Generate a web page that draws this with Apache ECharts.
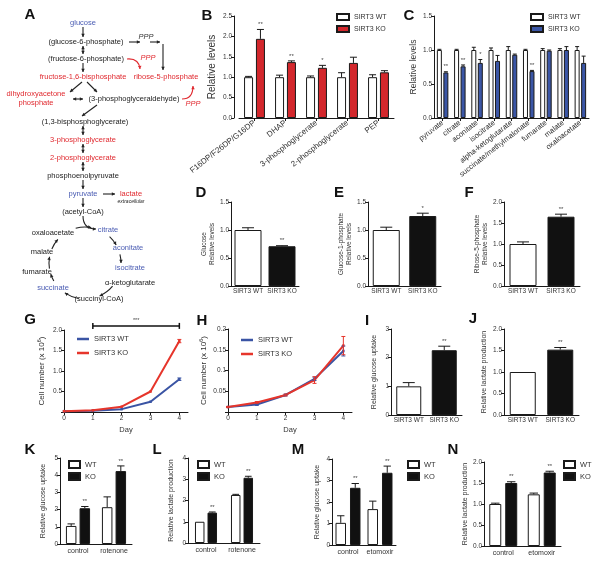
<!DOCTYPE html>
<html><head><meta charset="utf-8">
<script src="https://cdn.jsdelivr.net/npm/echarts@6/dist/echarts.min.js"></script>
<style>html,body{margin:0;padding:0;background:#fff}#c{width:600px;height:561px}</style>
</head><body><div id="c"></div>
<script>
// ================= DATA =================
const bCats = ['F16DP/F26DP/G16DP','DHAP','3-phosphoglycerate','2-phosphoglycerate','PEP'];
const bWT = [1.0,1.0,1.0,1.0,1.0];
const bWTErr = [0.02,0.05,0.03,0.11,0.06];
const bKO = [1.94,1.37,1.23,1.35,1.12];
const bKOErr = [0.23,0.03,0.06,0.14,0.04];
const bSig = ['**','**','*','',''];

const cCats = ['pyruvate','citrate','aconitate','isocitrate','alpha-ketoglutarate','succinate/methylmalonate','fumarate','malate','oxaloacetate'];
const cWT = [1,1,1,1,1,1,1,1,1];
const cWTErr = [0.01,0.01,0.04,0.03,0.05,0.01,0.02,0.02,0.05];
const cKO = [0.67,0.76,0.81,0.84,0.93,0.69,0.99,1.0,0.81];
const cKOErr = [0.01,0.02,0.05,0.08,0.01,0.01,0.01,0.05,0.10];
const cSig = ['**','**','*','','','**','','',''];

const pairCats = ['SIRT3 WT','SIRT3 KO'];
const dVals = [1.0,0.71], dErr = [0.04,0.01], dSig = ['','**'];
const eVals = [1.0,1.25], eErr = [0.05,0.05], eSig = ['','*'];
const fVals = [1.0,1.65], fErr = [0.05,0.06], fSig = ['','**'];

const days = [0,1,2,3,4];
const gWT = [0.02,0.03,0.07,0.25,0.80], gWTErr = [0,0,0,0,0.03];
const gKO = [0.02,0.04,0.13,0.50,1.73], gKOErr = [0,0,0,0,0.04];
const gBracket = [[1,4,2.1,'***']];
const hWT = [0.012,0.018,0.041,0.080,0.147], hWTErr = [0.001,0.002,0.002,0.004,0.012];
const hKO = [0.012,0.023,0.041,0.077,0.160], hKOErr = [0.001,0.002,0.002,0.008,0.022];

const iVals = [1.0,2.26], iErr = [0.13,0.14], iSig = ['','**'];
const jVals = [1.0,1.52], jErr = [0,0.05], jSig = ['','**'];

const kCats = ['control','rotenone'];
const kWT = [1.05,2.14], kWTErr = [0.12,0.6], kKO = [2.08,4.24], kKOErr = [0.1,0.3], kSig = ['**','**'];
const lWT = [1.0,2.26], lWTErr = [0,0.03], lKO = [1.43,3.07], lKOErr = [0.03,0.07], lSig = ['**','**'];
const mCats = ['control','etomoxir'];
const mWT = [1.03,1.67], mWTErr = [0.33,0.37], mKO = [2.66,3.36], mKOErr = [0.2,0.31], mSig = ['**','**'];
const nWT = [1.0,1.23], nWTErr = [0.02,0.03], nKO = [1.5,1.75], nKOErr = [0.03,0.03], nSig = ['**','**'];

// Panel A pathway labels
const aLabels = ['glucose','(glucose-6-phosphate)','PPP','(fructose-6-phosphate)','PPP','fructose-1,6-bisphosphate','ribose-5-phosphate','dihydroxyacetone','phosphate','(3-phosphoglyceraldehyde)','PPP','(1,3-bisphosphoglycerate)','3-phosphoglycerate','2-phosphoglycerate','phosphoenolpyruvate','pyruvate','lactate','extracellular','(acetyl-CoA)','citrate','oxaloacetate','aconitate','malate','isocitrate','fumarate','α-ketoglutarate','succinate','(succinyl-CoA)'];
const panelLetters = ['A','B','C','D','E','F','G','H','I','J','K','L','M','N'];

// ================= LAYOUT / STYLE =================
const FONT = '"Liberation Sans", Arial, Helvetica, sans-serif';
const INK = '#1a1a1a', TXT = '#333';
const RED = '#d3272c', BLUE = '#3b56a6', LRED = '#e6352b', LBLUE = '#3a54a4';
const TRED = '#e0292f', TBLUE = '#4a5cb3';
const aLayout = [[83,23,'b'],[86,42,'k'],[146,37,'gi'],[86,59,'k'],[148,58,'ri'],[83,77,'r'],[166,77,'r'],[36,94,'r'],[36,103,'r'],[134,99,'k'],[193,104,'ri'],[85,122,'k'],[83,140,'r'],[83,158,'r'],[83,176,'k'],[83,194,'b'],[131,194,'r'],[131,202,'ks'],[83,212,'k'],[108,230,'b'],[53,233,'k'],[128,248,'b'],[42,252,'k'],[130,268,'b'],[37,272,'k'],[130,283,'k'],[53,288,'b'],[99,299,'k']];
const letterPos = [[30,15],[207,16],[409,16],[201,193],[339,193],[469,193],[30,320],[202,321],[367,321],[473,319],[30,450],[157,450],[298,450],[453,450]];

const grids=[], xAxes=[], yAxes=[], series=[], legends=[], graphics=[];
function addGrid(l,t,w,h){ grids.push({left:l,top:t,width:w,height:h}); return grids.length-1; }
const f1 = v => v.toFixed(1), f0 = v => String(Math.round(v));
function yAx(idx,max,interval,fmt,name,gap,nsize,extra){
  yAxes.push(Object.assign({gridIndex:idx,type:'value',min:0,max,interval,
    axisLine:{show:true,lineStyle:{color:INK,width:1}},
    axisTick:{show:true,length:3,lineStyle:{color:INK,width:1}},
    axisLabel:{fontSize:6.5,color:TXT,margin:2,fontFamily:FONT,formatter:fmt},
    splitLine:{show:false},name,nameLocation:'middle',nameGap:gap,nameRotate:90,
    nameTextStyle:{fontSize:nsize,color:TXT,fontFamily:FONT,lineHeight:Math.round(nsize*1.3)}},extra||{}));
}
function catX(idx,cats,lab,tick){
  xAxes.push({gridIndex:idx,type:'category',data:cats,
    axisLine:{show:true,lineStyle:{color:INK,width:1}},
    axisTick:{show:!!tick,length:3,alignWithLabel:true,lineStyle:{color:INK}},
    axisLabel:Object.assign({fontSize:6.5,color:TXT,margin:3,fontFamily:FONT,interval:0},lab||{}),
    splitLine:{show:false}});
}
function valX(idx,max,ticks){
  xAxes.push({gridIndex:idx,type:'value',min:0,max,
    axisLine:{show:true,lineStyle:{color:INK,width:1}},
    axisTick:{show:true,length:3,customValues:ticks,lineStyle:{color:INK}},
    axisLabel:{fontSize:6.5,color:TXT,margin:3,fontFamily:FONT,customValues:ticks},
    splitLine:{show:false},name:'Day',nameLocation:'middle',nameGap:14,
    nameTextStyle:{fontSize:7.5,color:TXT,fontFamily:FONT}});
}
function bar(idx,name,vals,color,w,gap){
  series.push({type:'bar',name,xAxisIndex:idx,yAxisIndex:idx,data:vals,barWidth:w,barGap:gap,
    itemStyle:{color,borderColor:INK,borderWidth:1},silent:true});
}
function pairBar(idx,vals,w){
  series.push({type:'bar',name:'pair'+idx,xAxisIndex:idx,yAxisIndex:idx,barWidth:w,silent:true,
    data:vals.map((v,i)=>({value:v,itemStyle:{color:i===0?'#fff':'#111'}})),
    itemStyle:{borderColor:INK,borderWidth:1}});
}
function errs(idx,xs,vals,es,sigs,dx,cap,both,color){
  series.push({type:'custom',xAxisIndex:idx,yAxisIndex:idx,silent:true,z:10,clip:false,
    data:vals.map((v,i)=>[xs[i],v,es[i],i]),encode:{x:0,y:1},
    renderItem:function(params,api){
      const x0=api.value(0),v=api.value(1),e=api.value(2),k=api.value(3);
      const p=api.coord([x0,v]),t=api.coord([x0,v+e]),b=both?api.coord([x0,v-e]):p;
      const x=p[0]+dx,ch=[],st={stroke:color||INK,lineWidth:1};
      if(e>0){
        ch.push({type:'line',shape:{x1:x,y1:b[1],x2:x,y2:t[1]},style:st});
        ch.push({type:'line',shape:{x1:x-cap,y1:t[1],x2:x+cap,y2:t[1]},style:st});
        if(both) ch.push({type:'line',shape:{x1:x-cap,y1:b[1],x2:x+cap,y2:b[1]},style:st});
      }
      const s=sigs?sigs[k]:'';
      if(s) ch.push({type:'text',x:x,y:t[1]-2,style:{text:s,align:'center',verticalAlign:'bottom',fontSize:6,fontFamily:FONT,fill:'#444'}});
      return {type:'group',children:ch};
    }});
}
function groupedPanel(idx,wt,wtE,ko,koE,sig,koColor,w,g,prefix,cap){
  bar(idx,prefix+'|'+(prefix.length>1?'SIRT3 WT':'WT'),wt,'#fff',w,g);
  const dx=(w+w*g)/2;
  bar(idx,prefix+'|'+(prefix.length>1?'SIRT3 KO':'KO'),ko,koColor,w,g);
  const xs=wt.map((_,i)=>i);
  errs(idx,xs,wt,wtE,null,-dx,cap,false);
  errs(idx,xs,ko,koE,sig,dx,cap,false);
}
function legend(left,top,names,iw,ih,gap,fs,icon){
  legends.push({left,top,orient:'vertical',itemWidth:iw,itemHeight:ih,itemGap:gap,padding:0,
    selectedMode:false,icon:icon||'rect',data:names,formatter:n=>n.split('|')[1],
    textStyle:{fontSize:fs,color:TXT,fontFamily:FONT}});
}

// ---- B ----
let gi = addGrid(239,16,155,102);
catX(gi,bCats,{rotate:38,fontSize:8,margin:4},true);
yAx(gi,2.5,0.5,f1,'Relative levels',10,10,{offset:5});
groupedPanel(gi,bWT,bWTErr,bKO,bKOErr,bSig,RED,9,0.32,'SB',3.5);
legend(336,13,['SB|SIRT3 WT','SB|SIRT3 KO'],12,6,4,7);
// ---- C ----
gi = addGrid(434,16,155,102);
catX(gi,cCats,{rotate:38,fontSize:7.5,margin:4},true);
yAx(gi,1.5,0.5,f1,'Relative levels',12,8.5);
groupedPanel(gi,cWT,cWTErr,cKO,cKOErr,cSig,BLUE,5,0.3,'SC',2);
legend(530,13,['SC|SIRT3 WT','SC|SIRT3 KO'],12,6,4,7);
// ---- D/E/F ----
const defs = [[231,68,dVals,dErr,dSig,1.5,'Glucose\nRelative levels',14],[368,73,eVals,eErr,eSig,1.5,'Glucose-1-phosphate\nRelative levels',9],[504,76,fVals,fErr,fSig,2.0,'Ribose-5-phosphate\nRelative levels',13]];
defs.forEach(d=>{
  const g=addGrid(d[0],202,d[1],84);
  catX(g,pairCats,{fontSize:6.5,margin:2});
  yAx(g,d[5],0.5,f1,d[6],d[7],6.5);
  pairBar(g,d[2],27);
  errs(g,[0,1],d[2],d[3],d[4],0,6,false);
});
// ---- G ----
gi = addGrid(64,330,124,82);
valX(gi,4.3,days);
yAx(gi,2.0,0.5,v=>v===0?'':f1(v),'Cell number (x 10{s|6})',17,8,{nameTextStyle:{fontSize:8,color:TXT,fontFamily:FONT,rich:{s:{fontSize:5.5,padding:[0,0,5,0],fontFamily:FONT,color:TXT}}}});
series.push({type:'line',name:'SG|SIRT3 WT',xAxisIndex:gi,yAxisIndex:gi,data:days.map((d,i)=>[d,gWT[i]]),showSymbol:true,symbol:'rect',symbolSize:2.5,lineStyle:{color:LBLUE,width:2},itemStyle:{color:LBLUE},silent:true});
series.push({type:'line',name:'SG|SIRT3 KO',xAxisIndex:gi,yAxisIndex:gi,data:days.map((d,i)=>[d,gKO[i]]),showSymbol:true,symbol:'rect',symbolSize:2.5,lineStyle:{color:LRED,width:2},itemStyle:{color:LRED},silent:true});
errs(gi,days,gWT,gWTErr,null,0,2,true,LBLUE);
errs(gi,days,gKO,gKOErr,null,0,2,true,LRED);
series.push({type:'custom',xAxisIndex:gi,yAxisIndex:gi,silent:true,clip:false,data:gBracket,encode:{x:[0,1],y:2},
  renderItem:function(p,api){
    const a=api.coord([api.value(0),api.value(2)]),b=api.coord([api.value(1),api.value(2)]);
    const st={stroke:'#111',lineWidth:1.5};
    return {type:'group',children:[
      {type:'line',shape:{x1:a[0],y1:a[1],x2:b[0],y2:b[1]},style:st},
      {type:'line',shape:{x1:a[0],y1:a[1]-3,x2:a[0],y2:a[1]+3},style:st},
      {type:'line',shape:{x1:b[0],y1:b[1]-3,x2:b[0],y2:b[1]+3},style:st},
      {type:'text',x:(a[0]+b[0])/2,y:a[1]-2,style:{text:gBracket[p.dataIndex][3],align:'center',verticalAlign:'bottom',fontSize:5.5,fontFamily:FONT,fill:'#444'}}]};
  }});
legend(77,335,['SG|SIRT3 WT','SG|SIRT3 KO'],12,2.5,6,7.5);
// ---- H ----
gi = addGrid(228,329,124,83);
valX(gi,4.3,days);
yAx(gi,0.2,0.05,v=>v===0?'':String(+v.toFixed(2)),'Cell number (x 10{s|6})',19,8,{nameTextStyle:{fontSize:8,color:TXT,fontFamily:FONT,rich:{s:{fontSize:5.5,padding:[0,0,5,0],fontFamily:FONT,color:TXT}}}});
series.push({type:'line',name:'SH|SIRT3 WT',xAxisIndex:gi,yAxisIndex:gi,data:days.map((d,i)=>[d,hWT[i]]),showSymbol:true,symbol:'rect',symbolSize:2.5,lineStyle:{color:LBLUE,width:2},itemStyle:{color:LBLUE},silent:true});
series.push({type:'line',name:'SH|SIRT3 KO',xAxisIndex:gi,yAxisIndex:gi,data:days.map((d,i)=>[d,hKO[i]]),showSymbol:true,symbol:'rect',symbolSize:2.5,lineStyle:{color:LRED,width:2},itemStyle:{color:LRED},silent:true});
errs(gi,days,hWT,hWTErr,null,0,2,true,LBLUE);
errs(gi,days,hKO,hKOErr,null,0,2,true,LRED);
legend(241,336,['SH|SIRT3 WT','SH|SIRT3 KO'],12,2.5,6,7.5);
// ---- I / J ----
[[391,71,iVals,iErr,iSig,3,1,f0,'Relative glucose uptake',12,25],[504,75,jVals,jErr,jSig,2,0.5,f1,'Relative lactate production',15,26]].forEach(d=>{
  const g=addGrid(d[0],329,d[1],86);
  catX(g,pairCats,{fontSize:6.5,margin:2});
  yAx(g,d[5],d[6],d[7],d[8],d[9],7);
  pairBar(g,d[2],d[10]);
  errs(g,[0,1],d[2],d[3],d[4],0,6,false);
});
// ---- K L M N ----
[[60,458,72,86,kCats,5,1,f0,kWT,kWTErr,kKO,kKOErr,kSig,10.5,0.3,'Relative glucose uptake',12,'K',68],
 [188,458,72,85,kCats,4,1,f0,lWT,lWTErr,lKO,lKOErr,lSig,9.5,0.32,'Relative lactate production',12,'L',197],
 [332,459,64,86,mCats,4,1,f0,mWT,mWTErr,mKO,mKOErr,mSig,10.5,0.38,'Relative glucose uptake',10,'M',407],
 [484,462,77,84,mCats,2,0.5,f1,nWT,nWTErr,nKO,nKOErr,nSig,12,0.33,'Relative lactate production',12,'N',563]].forEach(d=>{
  const g=addGrid(d[0],d[1],d[2],d[3]);
  catX(g,d[4],{fontSize:7,margin:4});
  yAx(g,d[5],d[6],d[7],d[15],d[16],7);
  groupedPanel(g,d[8],d[9],d[10],d[11],d[12],'#111',d[13],d[14],d[17],d[13]*0.35);
  legend(d[18],460,[d[17]+'|WT',d[17]+'|KO'],11,7,3,7.5);
});

// ---- Panel A diagram ----
const colMap={b:TBLUE,r:TRED,k:'#222',g:'#333'};
aLabels.forEach((t,i)=>{
  const L=aLayout[i]; const c=L[2];
  graphics.push({type:'text',x:L[0],y:L[1],silent:true,style:{text:t,align:'center',verticalAlign:'middle',
    fontSize:c==='ks'?5:7.5,fontStyle:(c.length>1)?'italic':'normal',fontFamily:FONT,fill:colMap[c[0]]}});
});
function head(x,y,ang,color,s){
  s=s||3.2;
  const bx=x-s*Math.cos(ang),by=y-s*Math.sin(ang),w=s*0.55;
  return {type:'polygon',silent:true,shape:{points:[[x,y],[bx+w*Math.sin(ang),by-w*Math.cos(ang)],[bx-w*Math.sin(ang),by+w*Math.cos(ang)]]},style:{fill:color}};
}
function arrow(x1,y1,x2,y2,color,both){
  color=color||'#222';
  const ang=Math.atan2(y2-y1,x2-x1);
  graphics.push({type:'line',silent:true,shape:{x1,y1,x2,y2},style:{stroke:color,lineWidth:1.1}});
  graphics.push(head(x2,y2,ang,color));
  if(both) graphics.push(head(x1,y1,ang+Math.PI,color));
}
function curve(x1,y1,cx,cy,x2,y2,color){
  graphics.push({type:'bezierCurve',silent:true,shape:{x1,y1,cpx1:cx,cpy1:cy,x2,y2},style:{stroke:color,lineWidth:1.1,fill:'none'}});
  graphics.push(head(x2,y2,Math.atan2(y2-cy,x2-cx),color));
}
const R=Math.PI/180;
function arc(cx,cy,r,a1,a2){
  graphics.push({type:'arc',silent:true,shape:{cx,cy,r,startAngle:a1*R,endAngle:a2*R,clockwise:true},style:{stroke:'#222',lineWidth:1.1,fill:'none'}});
  graphics.push(head(cx+r*Math.cos(a2*R),cy+r*Math.sin(a2*R),a2*R+Math.PI/2,'#222'));
}
arrow(83,27,83,37); arrow(83,46,83,54,null,true); arrow(83,63,83,72);
arrow(129,42,140,42); arrow(150,42,160,42); arrow(163,44,163,70);
curve(127,59,139,58,140,69,TRED);
arrow(82,82,70,92); arrow(87,82,97,92); arrow(73,99,83,99,null,true);
arrow(97,105,82,116);
curve(182,99,193,99,193,86,TRED);
arrow(83,126,83,135,null,true); arrow(83,144,83,153,null,true); arrow(83,162,83,171,null,true);
arrow(83,180,83,189); arrow(83,198,83,207); arrow(103,194,115,194);
curve(83,216,83,229,96,229,'#222');
arc(85,263,36,255,280); arc(85,263,36,-47,-30); arc(85,263,36,-14,0);
arc(85,263,36,40,66); arc(85,263,36,100,124); arc(85,263,36,150,162);
arc(85,263,36,171,190); arc(85,263,36,203,221);

panelLetters.forEach((t,i)=>graphics.push({type:'text',x:letterPos[i][0],y:letterPos[i][1],silent:true,
  style:{text:t,align:'center',verticalAlign:'middle',fontSize:15,fontWeight:'bold',fontFamily:FONT,fill:'#111'}}));

const chart = echarts.init(document.getElementById('c'),null,{renderer:'canvas',width:600,height:561});
chart.setOption({backgroundColor:'#fff',animation:false,grid:grids,xAxis:xAxes,yAxis:yAxes,series,legend:legends,graphic:graphics});
</script></body></html>
